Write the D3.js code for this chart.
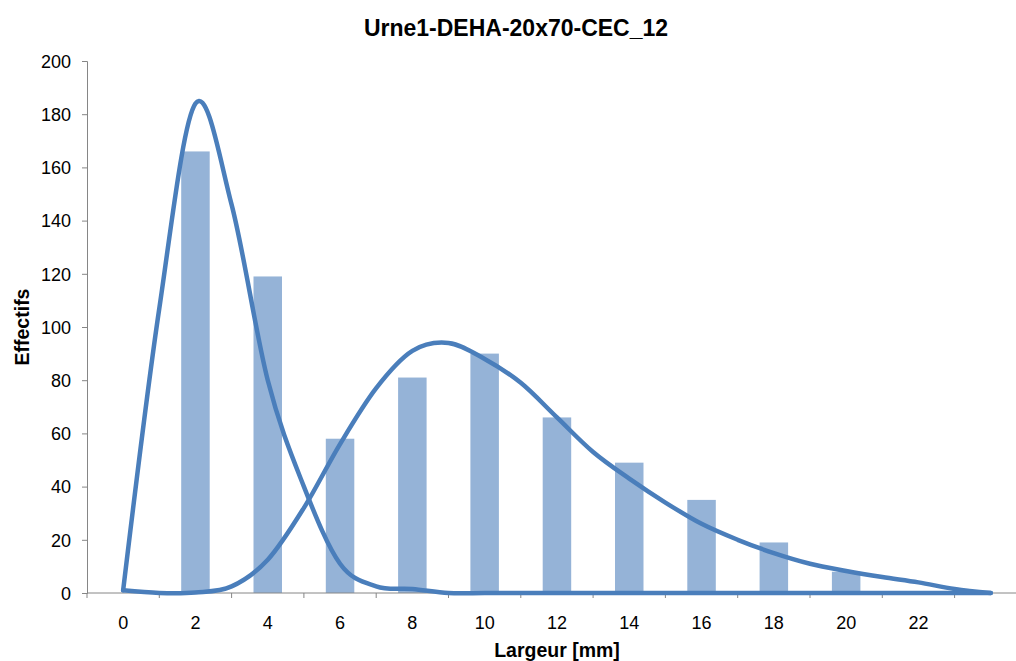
<!DOCTYPE html>
<html>
<head>
<meta charset="utf-8">
<script src="https://cdn.jsdelivr.net/npm/d3@7"></script>
<style>
  html, body { margin: 0; padding: 0; background: #ffffff; }
  svg { display: block; }
  text { font-family: "Liberation Sans", Arial, sans-serif; fill: #000; }
</style>
</head>
<body>
<svg id="chart" width="1016" height="661"></svg>
<script>
// ---- data ----
const title = "Urne1-DEHA-20x70-CEC_12";
const xAxisTitle = "Largeur [mm]";
const yAxisTitle = "Effectifs";

const barCategories = [2, 4, 6, 8, 10, 12, 14, 16, 18, 20];
const barCounts = [166, 119, 58, 81, 90, 66, 49, 35, 19, 8];

const xTickLabels = [0, 2, 4, 6, 8, 10, 12, 14, 16, 18, 20, 22];
const yTickLabels = [0, 20, 40, 60, 80, 100, 120, 140, 160, 180, 200];

const fitX = [0, 1, 2, 3, 4, 5, 6, 7, 8, 9, 10, 11, 12, 13, 14, 15, 16, 17, 18, 19, 20, 21, 22, 23, 24];
const fit1 = [1, 107, 184, 146, 80, 40, 11, 2.5, 1.5, 0, 0, 0, 0, 0, 0, 0, 0, 0, 0, 0, 0, 0, 0, 0, 0];
const fit2 = [1, 0, 0.2, 2.5, 12.5, 32, 56, 77, 91, 94, 88, 79, 66, 53, 43, 34, 26, 20, 15, 11, 8.3, 6, 4, 1.5, 0];

// ---- layout ----
const svg = d3.select("#chart");
const plotLeft = 87, plotTop = 61, plotBottom = 593;

const x = d3.scaleLinear().domain([-1, 23]).range([plotLeft, 954.6]);
const y = d3.scaleLinear().domain([0, 200]).range([plotBottom, plotTop]);

const axisColor = "#868686";
const barColor = "#95B3D7";
const lineColor = "#4A7EBB";

// title
svg.append("text")
  .attr("x", 516).attr("y", 36)
  .attr("text-anchor", "middle")
  .style("font-size", "23px").style("font-weight", "bold")
  .text(title);

// bars
const barW = 28.5;
svg.append("g").selectAll("rect")
  .data(barCategories.map((c, i) => ({c, v: barCounts[i]})))
  .join("rect")
  .attr("x", d => x(d.c) - barW / 2)
  .attr("y", d => y(d.v))
  .attr("width", barW)
  .attr("height", d => y(0) - y(d.v))
  .attr("fill", barColor);

// y axis
const yAxis = d3.axisLeft(y).tickValues(yTickLabels).tickSize(5).tickPadding(11).tickFormat(d3.format("d"));
const gy = svg.append("g").attr("transform", `translate(${plotLeft},0)`).call(yAxis);
gy.select(".domain").attr("stroke", axisColor);
gy.selectAll(".tick line").attr("stroke", axisColor);
gy.selectAll(".tick text").style("font-size", "18px").style("font-family", "Liberation Sans, Arial, sans-serif").attr("fill", "#000").attr("dy", "0.35em");

// x axis: tick marks between categories, labels at categories
const gx = svg.append("g");
gx.append("line")
  .attr("x1", plotLeft).attr("x2", 1016)
  .attr("y1", plotBottom).attr("y2", plotBottom)
  .attr("stroke", axisColor);
const tickPos = d3.range(-1, 24, 2);
gx.selectAll("line.tk").data(tickPos).join("line")
  .attr("class", "tk")
  .attr("x1", d => x(d)).attr("x2", d => x(d))
  .attr("y1", plotBottom).attr("y2", plotBottom + 5)
  .attr("stroke", axisColor);
gx.selectAll("text").data(xTickLabels).join("text")
  .attr("x", d => x(d)).attr("y", 629)
  .attr("text-anchor", "middle")
  .style("font-size", "18px")
  .text(d => d);

// fitted curves (smoothed lines)
const line = d3.line()
  .x(d => x(d[0])).y(d => y(d[1]))
  .curve(d3.curveCatmullRom.alpha(0));
[fit1, fit2].forEach(s => {
  svg.append("path")
    .datum(fitX.map((v, i) => [v, s[i]]))
    .attr("d", line)
    .attr("fill", "none")
    .attr("stroke", lineColor)
    .attr("stroke-width", 4.5)
    .attr("stroke-linejoin", "round")
    .attr("stroke-linecap", "round");
});

// axis titles
svg.append("text")
  .attr("x", 557).attr("y", 657)
  .attr("text-anchor", "middle")
  .style("font-size", "19.5px").style("font-weight", "bold")
  .text(xAxisTitle);
svg.append("text")
  .attr("transform", "translate(29,327) rotate(-90)")
  .attr("text-anchor", "middle")
  .style("font-size", "19.5px").style("font-weight", "bold")
  .text(yAxisTitle);
</script>
</body>
</html>
